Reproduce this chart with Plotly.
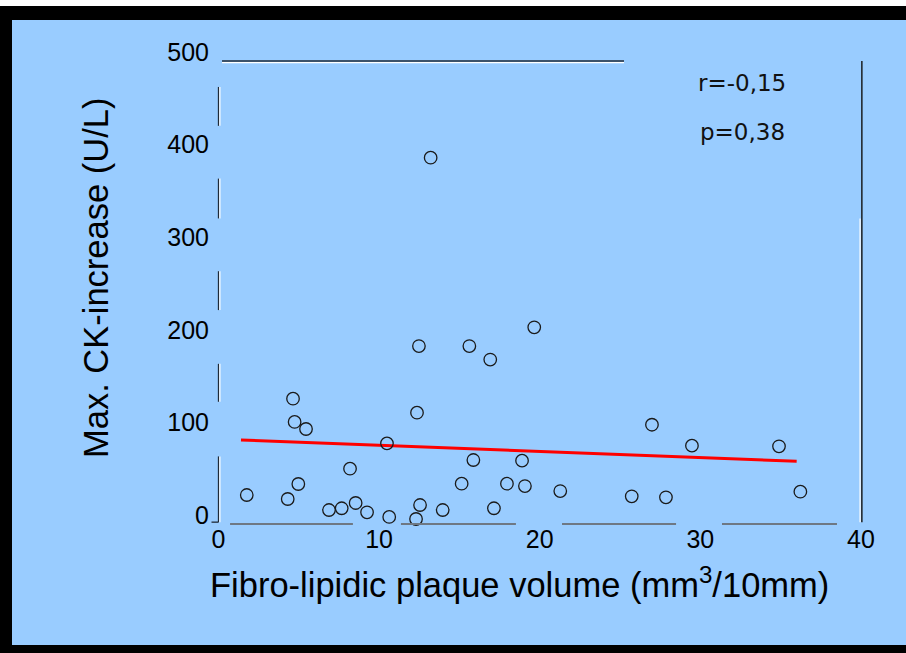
import plotly.graph_objects as go

# Fibro-lipidic plaque volume (mm3/10mm) vs maximal CK increase (U/L)
vol = [1.76, 4.31, 4.64, 4.74, 5.45, 4.97, 6.88, 7.67, 8.19, 8.54, 9.25, 10.49,
       10.63, 12.36, 12.48, 12.55, 12.30, 13.21, 13.96, 15.14, 15.62, 15.87,
       16.92, 17.15, 17.96, 18.90, 19.08, 19.66, 21.28, 25.73, 26.99, 27.86,
       29.48, 34.90, 36.23]
ck = [31.3, 27.0, 135.3, 110.2, 102.6, 43.2, 15.1, 17.0, 59.7, 22.7, 12.6, 87.1,
      7.6, 120.2, 192.2, 20.5, 5.4, 395.6, 15.1, 43.5, 192.2, 69.1,
      177.6, 17.0, 43.5, 68.4, 41.0, 212.4, 35.6, 29.9, 107.2, 28.8,
      84.6, 83.9, 34.9]

# regression line end points
fit_x = [1.4, 36.0]
fit_y = [90.7, 67.7]

x_ticks = [0, 10, 20, 30, 40]
y_ticks = [0, 100, 200, 300, 400, 500]

stats_lines = ["r=-0,15", "p=0,38"]

# broken frame pieces (data units)
left_pieces = [(2, 73), (132, 173), (231, 273), (330, 373), (430, 472)]
bottom_pieces = [(0.72, 8.37), (11.36, 18.52), (21.39, 28.49), (31.35, 38.51)]
top_piece = (0.22, 25.25)
right_piece = (2, 500)
right_glint = (2, 330)

W, H = 906, 653
L, R, T, B = 210, 36, 50, 125
PW, PH = W - L - R, H - T - B
x_range = [-0.529, 40.566]
y_range = [-4.32, 511.9]
ux = (x_range[1] - x_range[0]) / PW   # data units per pixel, x
uy = (y_range[1] - y_range[0]) / PH   # data units per pixel, y

BG = "#99CCFF"
DARK = "#1E2A38"
GREY = "#6E7884"


def px_to_paper_x(px):
    return (px - L) / PW


def px_to_paper_y(py):
    return (H - B - py) / PH


fig = go.Figure()

fig.add_trace(go.Scatter(
    x=fit_x, y=fit_y, mode="lines",
    line=dict(color="#FF0000", width=3),
    hoverinfo="skip", showlegend=False, cliponaxis=False,
))
fig.add_trace(go.Scatter(
    x=vol, y=ck, mode="markers",
    marker=dict(symbol="circle-open", size=12.5, color="#1A1A1A",
                line=dict(width=1.3, color="#1A1A1A")),
    showlegend=False, cliponaxis=False,
))

shapes = []


def band(px0, py0, px1, py1, color):
    shapes.append(dict(type="rect", xref="paper", yref="paper", layer="below",
                       x0=px_to_paper_x(px0), x1=px_to_paper_x(px1),
                       y0=px_to_paper_y(py1), y1=px_to_paper_y(py0),
                       fillcolor=color, line=dict(width=0)))


# page frame: thin white strip on top, black bands top / left / bottom
band(0, 0, W, 6, "white")
band(0, 6, W, 20, "black")
band(0, 6, 12, H, "black")
band(0, 645, W, H, "black")


def seg(x0, y0, x1, y1, color, width):
    shapes.append(dict(type="line", xref="x", yref="y", layer="above",
                       x0=x0, y0=y0, x1=x1, y1=y1,
                       line=dict(color=color, width=width)))


for a, b in left_pieces:
    seg(0, a, 0, b, DARK, 1.3)
    seg(1.4 * ux, a, 1.4 * ux, b, "white", 1.2)
seg(-7 * ux, 2, 0, 2, DARK, 1.3)
for a, b in bottom_pieces:
    seg(a, 0, b, 0, GREY, 1.8)
seg(top_piece[0], 500, top_piece[1], 500, DARK, 1.3)
seg(top_piece[0], 500 - 1.6 * uy, top_piece[1], 500 - 1.6 * uy, "white", 1.2)
seg(40.06, right_piece[0], 40.06, right_piece[1], "#111111", 1.4)
seg(40.06 - 1.8 * ux, right_glint[0], 40.06 - 1.8 * ux, right_glint[1], "white", 1.2)

annotations = [
    dict(text="Fibro-lipidic plaque volume (mm<sup>3</sup>/10mm)",
         xref="paper", yref="paper", showarrow=False,
         x=px_to_paper_x(519), y=px_to_paper_y(582),
         xanchor="center", yanchor="middle",
         font=dict(family="Liberation Sans, Arial", size=34.5, color="black")),
    dict(text="Max. CK-increase (U/L)", textangle=-90,
         xref="paper", yref="paper", showarrow=False,
         x=px_to_paper_x(96), y=px_to_paper_y(278),
         xanchor="center", yanchor="middle",
         font=dict(family="Liberation Sans, Arial", size=34.5, color="black")),
]
for i, s in enumerate(stats_lines):
    annotations.append(dict(
        text=s, xref="paper", yref="paper", showarrow=False,
        x=px_to_paper_x(742), y=px_to_paper_y(83 + 49 * i),
        xanchor="center", yanchor="middle",
        font=dict(family="DejaVu Sans", size=23, color="#111111")))

fig.update_layout(
    width=W, height=H,
    margin=dict(l=L, r=R, t=T, b=B, autoexpand=False),
    paper_bgcolor=BG, plot_bgcolor=BG,
    shapes=shapes, annotations=annotations,
    showlegend=False,
    xaxis=dict(range=x_range, tickmode="array", tickvals=x_ticks,
               ticktext=[str(v) for v in x_ticks],
               showgrid=False, zeroline=False, showline=False, ticks="",
               ticklabelstandoff=-6,
               tickfont=dict(family="Liberation Sans, Arial", size=25, color="black"),
               fixedrange=True),
    yaxis=dict(range=y_range, tickmode="array", tickvals=y_ticks,
               ticktext=[str(v) for v in y_ticks],
               showgrid=False, zeroline=False, showline=False, ticks="",
               ticklabelshift=-9, ticklabelstandoff=0,
               tickfont=dict(family="Liberation Sans, Arial", size=25, color="black"),
               fixedrange=True),
)

fig.write_html(
    "out.html",
    config={"displayModeBar": False},
    post_script="document.body.style.margin='0';document.body.style.overflow='hidden';"
                "document.body.style.background='" + BG + "';",
)
